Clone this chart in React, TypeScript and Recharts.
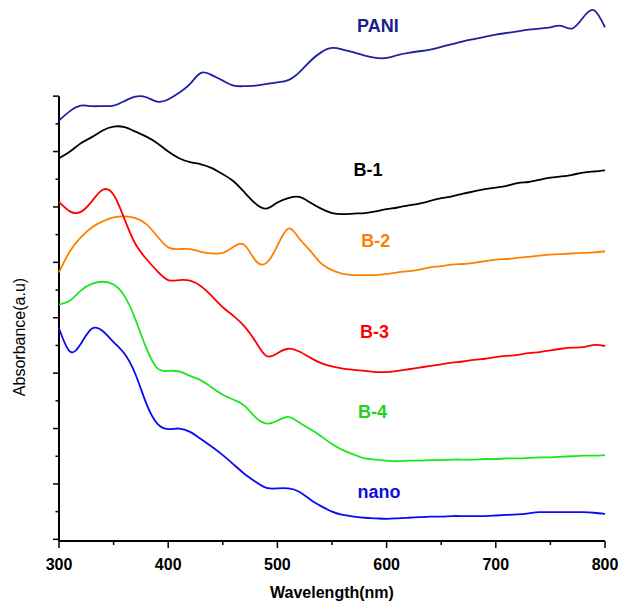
import React from 'react';
import { LineChart, Line, XAxis, YAxis, ReferenceLine, ReferenceDot } from 'recharts';

// wavelength (nm), 10 nm steps
const wavelengths = [
  300, 310, 320, 330, 340, 350, 360, 370, 380, 390,
  400, 410, 420, 430, 440, 450, 460, 470, 480, 490,
  500, 510, 520, 530, 540, 550, 560, 570, 580, 590,
  600, 610, 620, 630, 640, 650, 660, 670, 680, 690,
  700, 710, 720, 730, 740, 750, 760, 770, 780, 790, 800,
];

// absorbance (a.u), curves are offset vertically as in the original plot
const pani = [
  7.56, 7.73, 7.83, 7.82, 7.82, 7.83, 7.91, 7.99, 7.98, 7.90,
  7.94, 8.06, 8.22, 8.42, 8.38, 8.28, 8.19, 8.18, 8.19, 8.22,
  8.25, 8.29, 8.43, 8.63, 8.79, 8.87, 8.84, 8.79, 8.73, 8.69,
  8.69, 8.74, 8.78, 8.81, 8.84, 8.89, 8.94, 8.99, 9.03, 9.07,
  9.11, 9.14, 9.17, 9.20, 9.22, 9.24, 9.27, 9.22, 9.42, 9.55, 9.24,
];
const b1 = [
  6.88, 7.00, 7.15, 7.26, 7.38, 7.45, 7.44, 7.36, 7.27, 7.15,
  7.00, 6.88, 6.81, 6.77, 6.70, 6.59, 6.46, 6.26, 6.06, 5.97,
  6.08, 6.16, 6.18, 6.08, 5.97, 5.89, 5.87, 5.88, 5.89, 5.92,
  5.96, 5.99, 6.03, 6.06, 6.11, 6.16, 6.19, 6.24, 6.28, 6.32,
  6.35, 6.38, 6.43, 6.45, 6.49, 6.53, 6.55, 6.58, 6.62, 6.64, 6.66,
];
const b2 = [
  4.82, 5.20, 5.45, 5.63, 5.74, 5.81, 5.83, 5.80, 5.69, 5.47,
  5.27, 5.24, 5.24, 5.19, 5.16, 5.17, 5.28, 5.31, 5.03, 4.99,
  5.30, 5.61, 5.43, 5.21, 4.98, 4.86, 4.79, 4.77, 4.77, 4.77,
  4.79, 4.82, 4.84, 4.87, 4.91, 4.93, 4.96, 4.97, 4.99, 5.02,
  5.05, 5.06, 5.08, 5.10, 5.12, 5.14, 5.15, 5.16, 5.17, 5.18, 5.20,
];
const b3 = [
  6.09, 5.92, 5.91, 6.10, 6.31, 6.22, 5.78, 5.33, 5.06, 4.84,
  4.68, 4.68, 4.67, 4.57, 4.39, 4.19, 4.03, 3.84, 3.57, 3.31,
  3.36, 3.44, 3.39, 3.28, 3.18, 3.12, 3.08, 3.06, 3.04, 3.02,
  3.02, 3.04, 3.07, 3.10, 3.13, 3.16, 3.19, 3.21, 3.24, 3.26,
  3.29, 3.31, 3.33, 3.36, 3.38, 3.41, 3.44, 3.46, 3.47, 3.51, 3.49,
];
const b4 = [
  4.24, 4.31, 4.49, 4.61, 4.65, 4.60, 4.39, 3.97, 3.45, 3.09,
  3.04, 3.03, 2.95, 2.87, 2.74, 2.61, 2.52, 2.41, 2.20, 2.09,
  2.14, 2.21, 2.11, 1.99, 1.86, 1.72, 1.61, 1.53, 1.46, 1.44,
  1.42, 1.41, 1.42, 1.42, 1.43, 1.43, 1.44, 1.44, 1.44, 1.45,
  1.45, 1.46, 1.46, 1.47, 1.48, 1.48, 1.49, 1.50, 1.51, 1.51, 1.52,
];
const nano = [
  3.81, 3.39, 3.53, 3.80, 3.76, 3.56, 3.35, 2.98, 2.45, 2.09,
  1.99, 2.00, 1.94, 1.81, 1.67, 1.52, 1.35, 1.18, 1.04, 0.93,
  0.92, 0.92, 0.86, 0.72, 0.60, 0.50, 0.44, 0.41, 0.39, 0.38,
  0.37, 0.38, 0.39, 0.40, 0.41, 0.41, 0.42, 0.42, 0.42, 0.42,
  0.43, 0.44, 0.45, 0.47, 0.49, 0.49, 0.49, 0.49, 0.49, 0.48, 0.46,
];

const xTicks = [300, 350, 400, 450, 500, 550, 600, 650, 700, 750, 800];
const yTicks = [0, 0.5, 1, 1.5, 2, 2.5, 3, 3.5, 4, 4.5, 5, 5.5, 6, 6.5, 7, 7.5, 8];

const series = [
  { key: 'pani', name: 'PANI', color: '#1f1fa3', labelColor: '#1c1c8a', at: [592, 9.28] },
  { key: 'b1', name: 'B-1', color: '#000000', labelColor: '#000000', at: [583, 6.68] },
  { key: 'b2', name: 'B-2', color: '#ff8000', labelColor: '#ff8000', at: [590, 5.4] },
  { key: 'b3', name: 'B-3', color: '#ff0000', labelColor: '#ff0000', at: [589, 3.75] },
  { key: 'b4', name: 'B-4', color: '#1ee61e', labelColor: '#1ed21e', at: [587, 2.3] },
  { key: 'nano', name: 'nano', color: '#0a0af5', labelColor: '#1010d8', at: [593, 0.86] },
];

const data = wavelengths.map((wl, i) => ({
  wl,
  pani: pani[i],
  b1: b1[i],
  b2: b2[i],
  b3: b3[i],
  b4: b4[i],
  nano: nano[i],
}));

const FONT = '"Liberation Sans", Arial, sans-serif';

const XTick = (props: any) => {
  const { x, y, payload } = props;
  const major = payload.value % 100 === 0;
  return (
    <g>
      <line x1={x} x2={x} y1={y} y2={y + (major ? 7 : 4)} stroke="#000" strokeWidth={1.5} />
      {major && (
        <text x={x} y={y + 29} textAnchor="middle" fontFamily={FONT} fontWeight="bold" fontSize={16} fill="#000">
          {payload.value}
        </text>
      )}
    </g>
  );
};

const YTick = (props: any) => {
  const { x, y, payload } = props;
  const major = Number.isInteger(payload.value);
  return <line x1={x} x2={x - (major ? 6 : 3.5)} y1={y} y2={y} stroke="#000" strokeWidth={1.5} />;
};

export default function App() {
  return (
    <div style={{ position: 'absolute', left: 0, top: 0, width: 620, height: 603, background: '#fff' }}>
      <LineChart width={620} height={603} data={data} margin={{ top: 7.5, right: 15, bottom: 0, left: 0 }}>
        <XAxis
          dataKey="wl"
          type="number"
          domain={[300, 800]}
          ticks={xTicks}
          height={62}
          axisLine={{ stroke: '#000', strokeWidth: 2 }}
          tickLine={false}
          tickSize={0}
          tickMargin={0}
          tick={<XTick />}
          label={{
            content: (p: any) => (
              <text
                x={p.viewBox.x + p.viewBox.width / 2}
                y={p.viewBox.y + 57}
                textAnchor="middle"
                fontFamily={FONT}
                fontWeight="bold"
                fontSize={16}
                fill="#000"
              >
                Wavelength(nm)
              </text>
            ),
          }}
        />
        <YAxis
          type="number"
          domain={[-0.03, 9.6]}
          ticks={yTicks}
          width={59}
          axisLine={false}
          tickLine={false}
          tickSize={0}
          tickMargin={0}
          tick={<YTick />}
          label={{
            content: () => (
              <text x={25} y={337} transform="rotate(-90 25 337)" textAnchor="middle" fontFamily={FONT} fontSize={16} fill="#000">
                Absorbance(a.u)
              </text>
            ),
          }}
        />
        <ReferenceLine segment={[{ x: 300, y: -0.03 }, { x: 300, y: 8 }]} stroke="#000" strokeWidth={2} />
        {series.map((s) => (
          <Line
            key={s.key}
            type="natural"
            dataKey={s.key}
            stroke={s.color}
            strokeWidth={1.8}
            dot={false}
            isAnimationActive={false}
          />
        ))}
        {series.map((s) => (
          <ReferenceDot
            key={'lbl-' + s.key}
            x={s.at[0]}
            y={s.at[1]}
            r={0}
            fill="none"
            stroke="none"
            label={{ value: s.name, fill: s.labelColor, fontSize: 18, fontWeight: 'bold', fontFamily: FONT }}
          />
        ))}
      </LineChart>
    </div>
  );
}
